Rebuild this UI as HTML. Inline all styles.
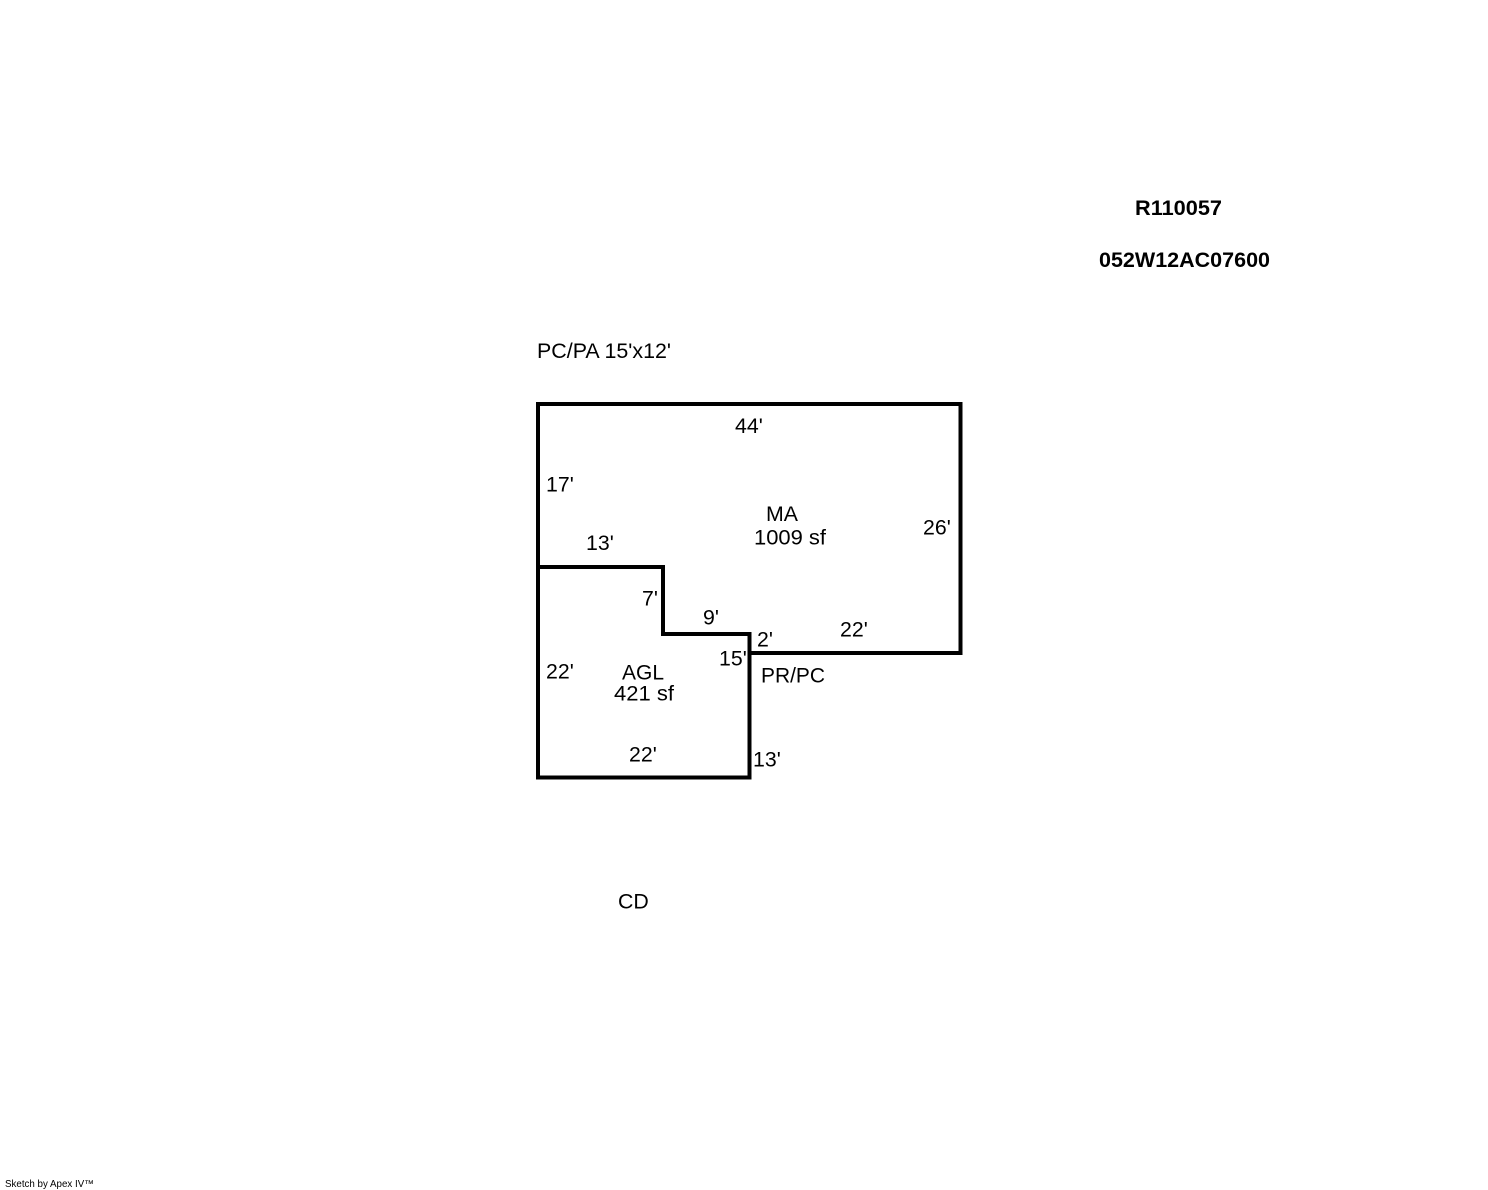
<!DOCTYPE html>
<html><head><meta charset="utf-8"><style>
html,body{margin:0;padding:0;background:#fff}
svg{display:block}
text{font-family:"Liberation Sans",Arial,sans-serif;font-size:21.3px;fill:#000}
</style></head><body>
<svg width="1488" height="1190" viewBox="0 0 1488 1190" xmlns="http://www.w3.org/2000/svg">
<rect width="1488" height="1190" fill="#fff"/>
<g fill="none" stroke="#000" stroke-width="4" stroke-linejoin="miter">
<path d="M538 404H960.5V653H749.5V634H663V567H538Z"/>
<path d="M538 567V777.5H749.5V634"/>
</g>
<text x="1135" y="215" style="font-weight:bold" textLength="87" lengthAdjust="spacingAndGlyphs">R110057</text>
<text x="1099" y="267" style="font-weight:bold" textLength="171" lengthAdjust="spacingAndGlyphs">052W12AC07600</text>
<text x="537" y="358" textLength="134" lengthAdjust="spacingAndGlyphs">PC/PA 15'x12'</text>
<text x="735" y="433">44'</text>
<text x="546" y="491.500">17'</text>
<text x="766" y="521">MA</text>
<text x="754" y="544.500" textLength="72" lengthAdjust="spacingAndGlyphs">1009 sf</text>
<text x="923" y="534.500">26'</text>
<text x="586" y="550">13'</text>
<text x="642" y="605.500">7'</text>
<text x="703" y="624.500">9'</text>
<text x="757" y="646.500">2'</text>
<text x="840" y="636.500">22'</text>
<text x="719" y="665.500">15'</text>
<text x="761" y="682.500" textLength="64" lengthAdjust="spacingAndGlyphs">PR/PC</text>
<text x="546" y="678.500">22'</text>
<text x="622" y="679.500" textLength="42" lengthAdjust="spacingAndGlyphs">AGL</text>
<text x="614" y="700.500" textLength="60" lengthAdjust="spacingAndGlyphs">421 sf</text>
<text x="629" y="761.500">22'</text>
<text x="753" y="766.500">13'</text>
<text x="618" y="908.500">CD</text>
<text x="5" y="1187" style="font-size:9.800px" textLength="89" lengthAdjust="spacingAndGlyphs">Sketch by Apex IV™</text>
</svg>
</body></html>
